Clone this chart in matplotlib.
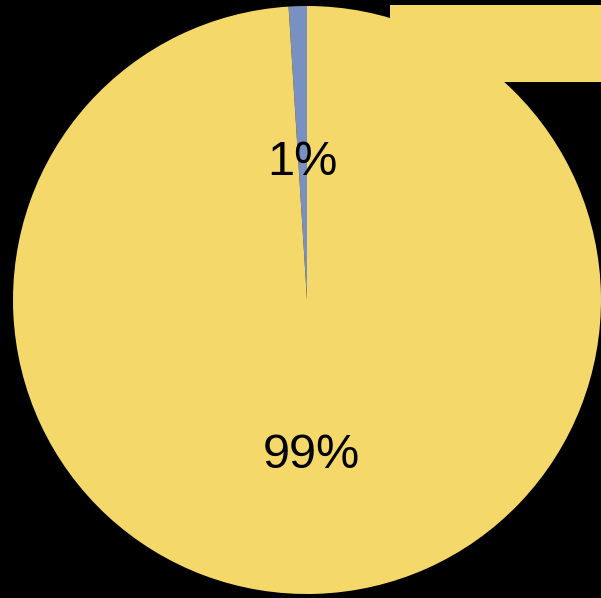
import matplotlib
matplotlib.use("Agg")
import matplotlib.pyplot as plt
from matplotlib.patches import Rectangle

# --- Data ---
labels = ["Minority", "Majority"]
shares = [1, 99]
colors = ["#7890c2", "#f5d86a"]

W, H, DPI = 601, 598, 100

fig = plt.figure(figsize=(W / DPI, H / DPI), dpi=DPI, facecolor="black")
ax = fig.add_axes([0, 0, 1, 1])
ax.set_facecolor("black")

cx, cy, r = 307, 300, 294  # pie centre and radius in pixels
wedges, texts, autotexts = ax.pie(
    shares,
    colors=colors,
    startangle=90,
    autopct="%1.0f%%",
    pctdistance=0.50,
    radius=r,
    center=(cx, H - cy),
    wedgeprops=dict(linewidth=0),
    textprops=dict(fontsize=35, family="Liberation Sans", color="black"),
)
# labels sit a little below their wedge anchors
for t in autotexts:
    x, y = t.get_position()
    t.set_position((x, y - 9))

ax.set_xlim(0, W)
ax.set_ylim(0, H)
ax.set_aspect("equal")
ax.axis("off")

# clipped legend box in the top right corner
fig.patches.append(Rectangle((390 / W, 1 - 82 / H), (W - 390) / W, 77 / H,
                             transform=fig.transFigure, facecolor=colors[1],
                             edgecolor="none"))

fig.savefig("out.png", dpi=DPI, facecolor="black")
